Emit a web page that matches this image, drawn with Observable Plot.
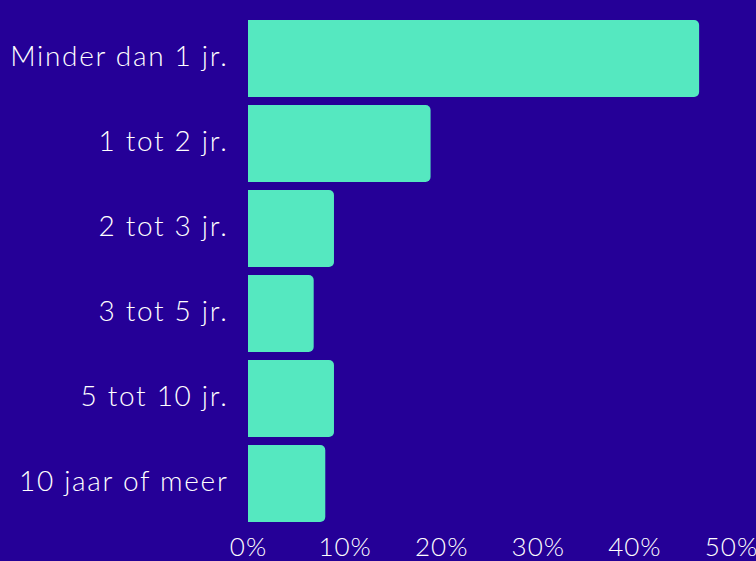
<!DOCTYPE html>
<html>
<head>
<meta charset="utf-8">
<script src="https://cdn.jsdelivr.net/npm/d3@7"></script>
<script src="https://cdn.jsdelivr.net/npm/@observablehq/plot@0.6"></script>
<style>
  html, body { margin: 0; padding: 0; background: #250097; }
  svg text { font-weight: 300; }
  svg g[aria-label="y-axis tick label"] text { letter-spacing: 1.7px; }
  svg g[aria-label="x-axis tick label"] text { letter-spacing: 1px; }
</style>
</head>
<body>
<div id="chart"></div>
<script>
const categories = ["Minder dan 1 jr.", "1 tot 2 jr.", "2 tot 3 jr.", "3 tot 5 jr.", "5 tot 10 jr.", "10 jaar of meer"];
const values = [46.7, 18.9, 8.9, 6.8, 8.9, 8.0];
const xTicks = [0, 10, 20, 30, 40, 50];

const data = categories.map((c, i) => ({category: c, value: values[i]}));

const chart = Plot.plot({
  width: 756,
  height: 561,
  marginTop: 12,
  marginBottom: 31,
  marginLeft: 248,
  marginRight: 25,
  style: {background: "#250097", color: "#ffffff", fontFamily: "Lato, sans-serif", fontSize: "26px"},
  x: {domain: [0, 50], ticks: xTicks, tickFormat: d => d + "%", label: null},
  y: {domain: categories, padding: 0.094, label: null},
  marks: [
    Plot.barX(data, {x: "value", y: "category", fill: "#55e8c0", rx2y1: 5, rx2y2: 5}),
    Plot.axisX({ticks: xTicks, tickFormat: d => d + "%", tickSize: 0, tickPadding: 7, fontSize: 26, fill: "#ffffff", label: null}),
    Plot.axisY({tickSize: 0, tickPadding: 20, dy: -2, fontSize: 28, fill: "#ffffff", label: null})
  ]
});
document.getElementById("chart").appendChild(chart);
</script>
</body>
</html>
